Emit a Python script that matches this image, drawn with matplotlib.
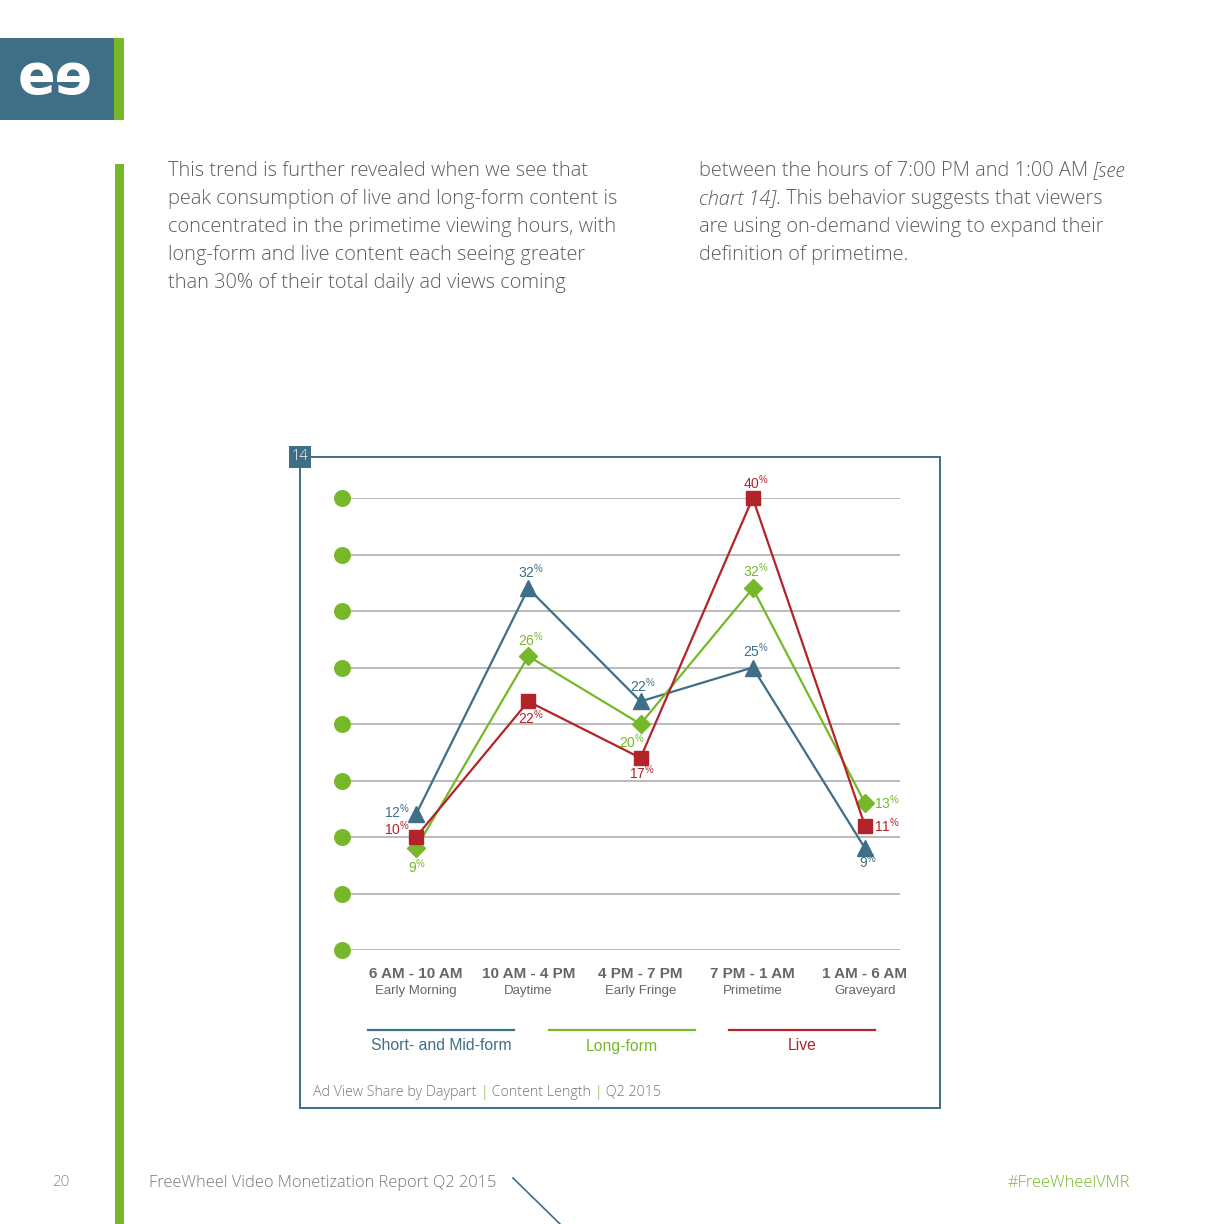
import matplotlib
matplotlib.use("Agg")
import matplotlib.pyplot as plt
from matplotlib.patches import Rectangle
from matplotlib.lines import Line2D

plt.rcParams['mathtext.fontset'] = 'custom'

# chart data (ad view share, %)
dayparts = ["6 AM - 10 AM", "10 AM - 4 PM", "4 PM - 7 PM", "7 PM - 1 AM", "1 AM - 6 AM"]
daypart_names = ["Early Morning", "Daytime", "Early Fringe", "Primetime", "Graveyard"]
short_mid = [12, 32, 22, 25, 9]
long_form = [9, 26, 20, 32, 13]
live = [10, 22, 17, 40, 11]
series_names = ["Short- and Mid-form", "Long-form", "Live"]
y_ticks = [0, 5, 10, 15, 20, 25, 30, 35, 40]

BLUE = "#3e6f87"
GREEN = "#77b82a"
RED = "#b3232a"
GREY = "#666666"
BODY = "Open Sans"

fig = plt.figure(figsize=(12.24, 12.24), dpi=100)
bg = fig.add_axes([0, 0, 1, 1])
bg.set_xlim(0, 1224)
bg.set_ylim(1224, 0)
bg.axis('off')
renderer = fig.canvas.get_renderer()


def runs(x, y, parts, **kw):
    # draw text pieces one after another on a line
    for s, style in parts:
        t = bg.text(x, y, s, va='center', **{**kw, **style})
        x += t.get_window_extent(renderer).width


# page decoration
bg.add_patch(Rectangle((0, 38), 114, 82, color=BLUE, lw=0))
bg.add_patch(Rectangle((114, 38), 10, 82, color=GREEN, lw=0))
bg.text(55, 78, "eɘ", color="white", fontsize=40, fontweight='bold',
        ha='center', va='center', family='DejaVu Sans')
bg.add_patch(Rectangle((115, 164), 9, 1060, color=GREEN, lw=0))

body = dict(fontsize=14.4, color="#5c5c5c", family=BODY, fontweight='light')

left_col = ["This trend is further revealed when we see that",
            "peak consumption of live and long-form content is",
            "concentrated in the primetime viewing hours, with",
            "long-form and live content each seeing greater",
            "than 30% of their total daily ad views coming"]
for i, line in enumerate(left_col):
    bg.text(168, 171 + 28 * i, line, va='center', **body)

runs(699, 171, [("between the hours of 7:00 PM and 1:00 AM ", {}),
                ("[see", {'style': 'italic'})], **body)
runs(699, 199, [("chart 14]", {'style': 'italic'}),
                (". This behavior suggests that viewers", {})], **body)
bg.text(699, 227, "are using on-demand viewing to expand their", va='center', **body)
bg.text(699, 255, "definition of primetime.", va='center', **body)

# chart frame and number tag
bg.add_patch(Rectangle((300, 457), 640, 651, fill=False, ec=BLUE, lw=1.4))
bg.add_patch(Rectangle((289, 446), 22, 22, color=BLUE, lw=0))
bg.text(300, 457, "14", color="white", fontsize=10.5, ha='center', va='center',
        family=BODY, fontweight='light')

# legend
legend_x = [368, 549, 729]
for x0, name, c in zip(legend_x, series_names, [BLUE, GREEN, RED]):
    bg.add_line(Line2D([x0, x0 + 146], [1030, 1030], color=c, lw=1.6))
    bg.text(x0 + 73, 1046, name, color=c, fontsize=11.3, ha='center', va='center',
            family='Liberation Sans')

runs(313, 1092, [("Ad View Share by Daypart ", {}), ("|", {'color': GREEN}),
                 (" Content Length ", {}), ("|", {'color': GREEN}), (" Q2 2015", {})],
     fontsize=10.3, color="#777777", family=BODY, fontweight='light')

# footer
bg.text(61, 1183, "20", fontsize=11, color="#888888", family=BODY, fontweight='light',
        ha='center', va='center')
bg.text(149, 1183, "FreeWheel Video Monetization Report Q2 2015", fontsize=11.8,
        color="#777777", family=BODY, fontweight='light', va='center')
bg.add_line(Line2D([513, 560], [1178, 1224], color=BLUE, lw=1.2))
bg.text(1130, 1183, "#FreeWheelVMR", fontsize=11.8, color=GREEN, family=BODY,
        fontweight='light', ha='right', va='center')

# data axes: x from 342 to 900 px, y 0% at 950 px, 40% at 498 px
step = 112.25
ax = fig.add_axes([342 / 1224, (1224 - 950) / 1224, 558 / 1224, 452 / 1224])
ax.set_xlim((342 - 416) / step, (900 - 416) / step)
ax.set_ylim(0, 40)
ax.axis('off')
for v in y_ticks:
    ax.axhline(v, color="#a8a8a8", lw=1.1, zorder=1)
ax.scatter([ax.get_xlim()[0]] * len(y_ticks), y_ticks, s=150, color=GREEN,
           zorder=3, clip_on=False, lw=0)

xs = list(range(len(dayparts)))
ax.plot(xs, short_mid, color=BLUE, lw=1.6, marker='^', ms=12, zorder=4, clip_on=False)
ax.plot(xs, long_form, color=GREEN, lw=1.6, marker='D', ms=9, zorder=5, clip_on=False)
ax.plot(xs, live, color=RED, lw=1.6, marker='s', ms=10, zorder=6, clip_on=False)

# value labels: offsets in points
offsets = {
    'short': [(-14, 2), (2, 12), (2, 11), (2, 12), (2, -10)],
    'long': [(1, -13), (2, 12), (-6, -13), (2, 13), (16, 0)],
    'live': [(-14, 6), (2, -12), (1, -11), (2, 11), (16, 0)],
}
for key, vals, c in [('short', short_mid, BLUE), ('long', long_form, GREEN),
                     ('live', live, RED)]:
    for i, v in enumerate(vals):
        ax.annotate(r"%d$^{\mathregular{\%%}}$" % v, (i, v), xytext=offsets[key][i],
                    textcoords='offset points', ha='center', va='center',
                    fontsize=10, color=c, family='Liberation Sans', zorder=7,
                    annotation_clip=False)

for i, (top, sub) in enumerate(zip(dayparts, daypart_names)):
    bg.text(416 + step * i, 974, top, fontsize=11, fontweight='bold', color=GREY,
            ha='center', va='center', family='Liberation Sans')
    bg.text(416 + step * i, 991, sub, fontsize=9.5, color=GREY,
            ha='center', va='center', family='Liberation Sans')

fig.savefig("out.png", dpi=100)
